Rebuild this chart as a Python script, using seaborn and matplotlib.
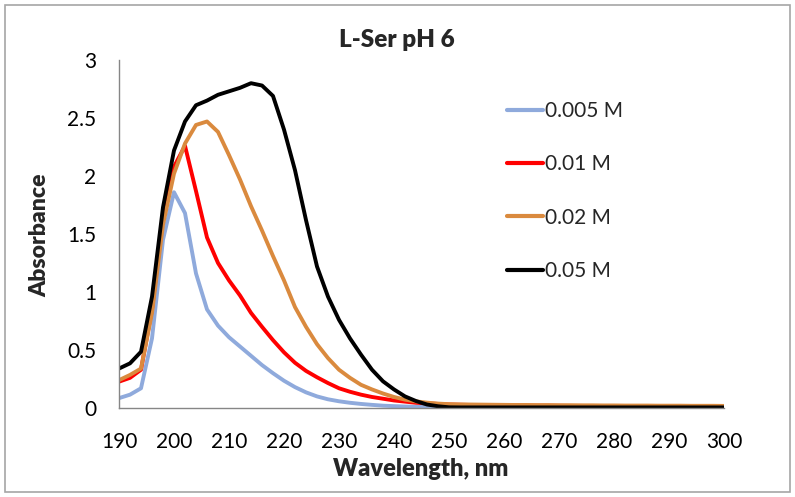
import numpy as np
import pandas as pd
import matplotlib
matplotlib.use("Agg")
import matplotlib.pyplot as plt
import seaborn as sns
from matplotlib.patches import Rectangle

wavelength = list(range(190, 302, 2))

abs_0005 = [0.085, 0.115, 0.17, 0.60, 1.45, 1.86, 1.68, 1.16, 0.85, 0.71,
            0.61, 0.53, 0.45, 0.37, 0.30, 0.235, 0.18, 0.135, 0.10, 0.075,
            0.058, 0.045, 0.035, 0.027, 0.020, 0.016, 0.013, 0.010, 0.008, 0.006,
            0.005, 0.004, 0.004, 0.004, 0.003, 0.003, 0.003, 0.003, 0.003, 0.003,
            0.002, 0.002, 0.002, 0.002, 0.002, 0.002, 0.002, 0.002, 0.002, 0.002,
            0.002, 0.002, 0.002, 0.002, 0.002, 0.002]
abs_001 = [0.227, 0.26, 0.33, 0.85, 1.65, 2.08, 2.26, 1.87, 1.47, 1.25,
           1.10, 0.97, 0.82, 0.70, 0.585, 0.48, 0.39, 0.32, 0.265, 0.215,
           0.17, 0.14, 0.115, 0.095, 0.08, 0.065, 0.055, 0.045, 0.04, 0.035,
           0.03, 0.028, 0.026, 0.025, 0.024, 0.023, 0.022, 0.021, 0.020, 0.020,
           0.019, 0.018, 0.018, 0.017, 0.017, 0.016, 0.016, 0.015, 0.015, 0.014,
           0.014, 0.014, 0.013, 0.013, 0.013, 0.012]
abs_002 = [0.24, 0.285, 0.34, 0.82, 1.58, 2.02, 2.28, 2.44, 2.47, 2.38,
           2.18, 1.97, 1.74, 1.53, 1.31, 1.10, 0.87, 0.70, 0.55, 0.43,
           0.33, 0.26, 0.20, 0.16, 0.125, 0.095, 0.072, 0.057, 0.046, 0.038,
           0.033, 0.031, 0.030, 0.029, 0.028, 0.027, 0.026, 0.026, 0.025, 0.025,
           0.024, 0.024, 0.023, 0.023, 0.022, 0.022, 0.021, 0.021, 0.021, 0.020,
           0.020, 0.020, 0.019, 0.019, 0.019, 0.018]
abs_005 = [0.34, 0.385, 0.485, 0.96, 1.73, 2.22, 2.47, 2.61, 2.65, 2.70,
           2.73, 2.76, 2.80, 2.78, 2.69, 2.40, 2.05, 1.62, 1.22, 0.96,
           0.76, 0.60, 0.46, 0.33, 0.23, 0.16, 0.10, 0.06, 0.03, 0.015,
           0.006, 0.005, 0.005, 0.005, 0.005, 0.005, 0.005, 0.005, 0.005, 0.005,
           0.005, 0.005, 0.005, 0.005, 0.005, 0.005, 0.005, 0.005, 0.005, 0.005,
           0.005, 0.005, 0.005, 0.005, 0.005, 0.005]

labels = ["0.005 M", "0.01 M", "0.02 M", "0.05 M"]
colors = ["#8FAADC", "#FF0000", "#DA8A3E", "#000000"]
series = [abs_0005, abs_001, abs_002, abs_005]

df = pd.concat([pd.DataFrame({"Wavelength": wavelength, "Absorbance": s, "Conc": lab})
                for s, lab in zip(series, labels)], ignore_index=True)

sns.set_theme(style="white")
plt.rcParams['font.family'] = ['Lato', 'DejaVu Sans']

fig = plt.figure(figsize=(7.95, 4.97), dpi=100)
ax = fig.add_axes([119/795, 1-408/497, (724-119)/795, (408-60)/497])

sns.lineplot(data=df, x="Wavelength", y="Absorbance", hue="Conc",
             hue_order=labels, palette=dict(zip(labels, colors)),
             linewidth=2.8, ax=ax, legend=True)

ax.set_xlim(190, 300)
ax.set_ylim(0, 3)
ax.set_xticks(range(190, 301, 10))
ax.set_yticks([0, 0.5, 1, 1.5, 2, 2.5, 3])
ax.set_yticklabels(["0", "0.5", "1", "1.5", "2", "2.5", "3"])
for sp in ["top", "right"]:
    ax.spines[sp].set_visible(False)
for sp in ["left", "bottom"]:
    ax.spines[sp].set_color("#868686")
    ax.spines[sp].set_linewidth(1.0)
ax.tick_params(axis="both", which="major", direction="out", length=5.5,
               width=1, color="#868686", labelsize=15, labelcolor="#000000")
ax.tick_params(axis="y", pad=11)
ax.tick_params(axis="x", pad=12)
ax.set_xlabel("")
ax.set_ylabel("")
ax.grid(False)

fig.text(421/795, 1-469/497, "Wavelength, nm", ha="center", va="center",
         fontsize=17, fontweight="heavy")
fig.text(40/795, 1-235/497, "Absorbance", ha="center", va="center",
         rotation=90, fontsize=16.5, fontweight="heavy")

leg = ax.legend(loc="upper left", bbox_to_anchor=(0.628, 0.906), frameon=False,
                fontsize=15, handlelength=1.7, handletextpad=0.12,
                labelspacing=1.6, borderaxespad=0)
for line in leg.get_lines():
    line.set_linewidth(3.0)

fig.text(397/795, 1-40/497, "L-Ser pH 6", ha="center", va="center",
         fontsize=17.5, fontweight="heavy")

fig.patches.append(Rectangle((5/795, 5/497), 785/795, 487/497, transform=fig.transFigure,
                             fill=False, edgecolor="#A6A6A6", linewidth=1.2))

fig.savefig("out.png", dpi=100)
